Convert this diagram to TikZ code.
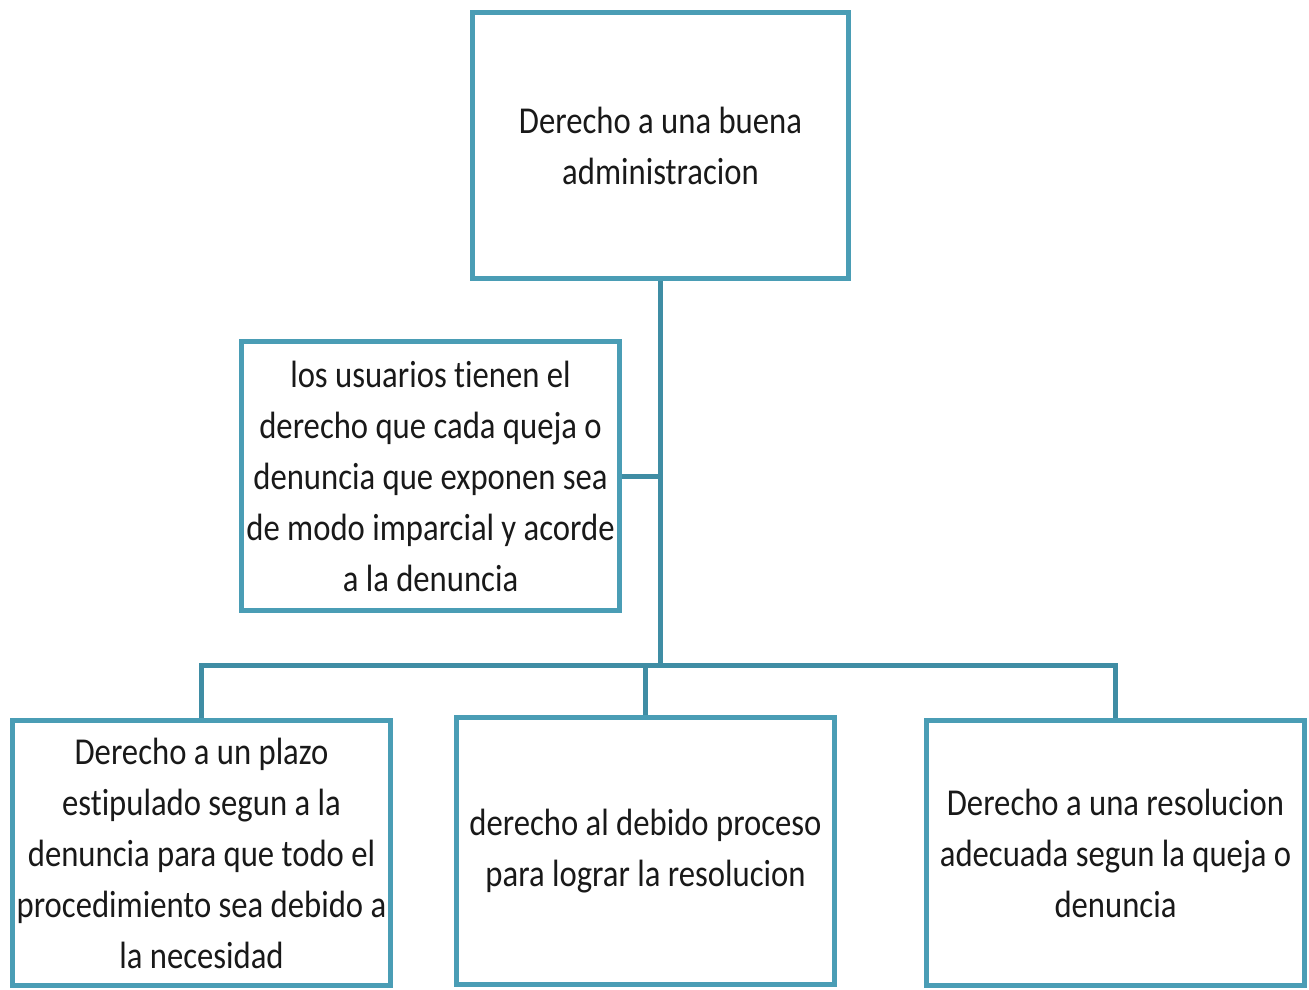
\documentclass[tikz,border=0pt]{standalone}
\usepackage{fontspec}
\setmainfont{Carlito}[FakeStretch=0.86,Ligatures={NoCommon}]
\definecolor{boxblue}{HTML}{4A9DB5}
\definecolor{lineblue}{HTML}{3F8DA4}
\begin{document}
\begin{tikzpicture}[x=1pt,y=-1pt,
  box/.style={draw=boxblue, line width=5pt, rectangle, minimum width=378pt, inner sep=0pt, align=center, font=\fontsize{38}{51}\selectfont, text=black!90},
  conn/.style={draw=lineblue, line width=5pt}]
\useasboundingbox[fill=white] (0,0) rectangle (1309,989);
\node[box, minimum width=376pt, minimum height=266pt] (top) at (660.5,145.5) {Derecho a una buena\\administracion};
\node[box, minimum height=269pt] (mid) at (430.5,476) {los usuarios tienen el\\derecho que cada queja o\\denuncia que exponen sea\\de modo imparcial y acorde\\a la denuncia};
\node[box, minimum height=265pt] (bl) at (201.5,853) {Derecho a un plazo\\estipulado segun a la\\denuncia para que todo el\\procedimiento sea debido a\\la necesidad};
\node[box, minimum height=267pt] (bm) at (645.5,851) {derecho al debido proceso\\para lograr la resolucion};
\node[box, minimum height=265pt] (br) at (1115.5,853) {Derecho a una resolucion\\adecuada segun la queja o\\denuncia};
\coordinate (j) at (660,665);
\draw[conn] (top.south -| j) -- (j);
\draw[conn] (mid.east) -- (mid.east -| j);
\draw[conn, line join=miter] (bl.north -| 201,0) -- (201,665) -- (1115,665) -- (br.north -| 1115,0);
\draw[conn] (bm.north -| 645,0) -- (645,665);
\end{tikzpicture}
\end{document}
